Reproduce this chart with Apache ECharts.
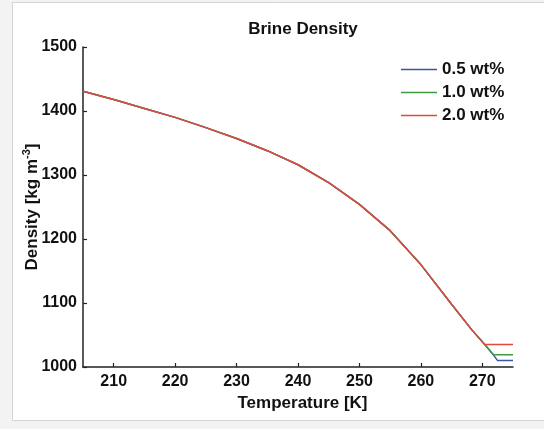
<!DOCTYPE html>
<html>
<head>
<meta charset="utf-8">
<script src="https://cdn.jsdelivr.net/npm/echarts@6/dist/echarts.min.js"></script>
<style>
html,body{margin:0;padding:0;background:#fff;}
#c{width:544px;height:429px;}
</style>
</head>
<body>
<div id="c"></div>
<script>
// Shared liquid-brine curve (Temperature K, Density kg m^-3)
const commonT = [205, 210, 215, 220, 225, 230, 235, 240, 245, 250, 255, 260, 265, 268.3, 270.4];
const commonD = [1431, 1418, 1404, 1390, 1374, 1357, 1338, 1316, 1288, 1254, 1213, 1160, 1098, 1058, 1035];
// Tails after each curve leaves the shared line
const tailT05 = [271.8, 272.5, 275];
const tailD05 = [1019, 1010, 1010];
const tailT10 = [271.8, 275];
const tailD10 = [1019, 1019];
const tailT20 = [275];
const tailD20 = [1035];

const seriesNames = ['0.5 wt%', '1.0 wt%', '2.0 wt%'];
const xTicks = [210, 220, 230, 240, 250, 260, 270];
const yTicks = [1000, 1100, 1200, 1300, 1400, 1500];

function build(tT, tD) {
  const pts = commonT.map((t, i) => [t, commonD[i]]);
  tT.forEach((t, i) => pts.push([t, tD[i]]));
  return pts;
}

const colors = ['#3a55a8', '#3f9a3f', '#e2473f'];
const font = 'Liberation Sans, Arial, Helvetica, sans-serif';

const chart = echarts.init(document.getElementById('c'), null, {renderer: 'canvas'});
chart.setOption({
  animation: false,
  backgroundColor: '#ffffff',
  graphic: [
    {type: 'rect', left: 0, top: 0, z: -10, silent: true,
     shape: {x: 0, y: 0, width: 544, height: 429},
     style: {fill: '#f3f3f3'}},
    {type: 'rect', z: -9, silent: true,
     shape: {x: 12.5, y: 2.5, width: 600, height: 418},
     style: {fill: '#ffffff', stroke: '#d4d4d4', lineWidth: 1}}
  ],
  title: {
    text: 'Brine Density',
    left: 298, top: 16, textAlign: 'center',
    textStyle: {fontFamily: font, fontWeight: 'bold', fontSize: 17, color: '#111'}
  },
  legend: {
    data: seriesNames,
    orient: 'vertical',
    left: 396, top: 56,
    itemWidth: 36, itemHeight: 2, itemGap: 6,
    icon: 'path://M0,0H36V1.5H0Z',
    textStyle: {fontFamily: font, fontWeight: 'bold', fontSize: 17, color: '#111'}
  },
  grid: {left: 83, top: 47, right: 31, bottom: 62, containLabel: false},
  xAxis: {
    type: 'value', min: 205, max: 275,
    name: 'Temperature [K]', nameLocation: 'middle', nameGap: 28, nameMoveOverlap: false,
    nameTextStyle: {fontFamily: font, fontWeight: 'bold', fontSize: 17, color: '#111', padding: [0, 0, 0, 9]},
    axisLine: {show: true, onZero: false, lineStyle: {color: '#222', width: 1.5}},
    axisTick: {show: true, inside: true, length: 4, customValues: xTicks, lineStyle: {color: '#222', width: 1.2}},
    axisLabel: {customValues: xTicks, margin: 7, formatter: v => String(v),
      fontFamily: font, fontWeight: 'bold', fontSize: 16, color: '#111'},
    splitLine: {show: false}
  },
  yAxis: {
    type: 'value', min: 1000, max: 1500, interval: 100,
    name: '{a|Density [kg m}{s|-3}{a|]}', nameLocation: 'middle', nameGap: 42, nameRotate: 90,
    nameMoveOverlap: false,
    nameTextStyle: {
      fontFamily: font, fontWeight: 'bold', fontSize: 17, color: '#111',
      rich: {
        a: {fontFamily: font, fontWeight: 'bold', fontSize: 17, color: '#111', verticalAlign: 'bottom', lineHeight: 20},
        s: {fontFamily: font, fontWeight: 'bold', fontSize: 11, color: '#111', verticalAlign: 'top', lineHeight: 20, padding: [0, 0, 9, 0]}
      }
    },
    axisLine: {show: true, onZero: false, lineStyle: {color: '#222', width: 1.5}},
    axisTick: {show: true, inside: true, length: 4, lineStyle: {color: '#222', width: 1.2}},
    axisLabel: {margin: 6, formatter: v => String(v),
      fontFamily: font, fontWeight: 'bold', fontSize: 16, color: '#111'},
    splitLine: {show: false}
  },
  series: [
    {name: seriesNames[0], type: 'line', data: build(tailT05, tailD05), symbol: 'none', color: colors[0],
     lineStyle: {width: 1.5, color: colors[0]}},
    {name: seriesNames[1], type: 'line', data: build(tailT10, tailD10), symbol: 'none', color: colors[1],
     lineStyle: {width: 1.5, color: colors[1]}},
    {name: seriesNames[2], type: 'line', data: build(tailT20, tailD20), symbol: 'none', color: colors[2],
     lineStyle: {width: 1.5, color: colors[2]}}
  ]
});
</script>
</body>
</html>
